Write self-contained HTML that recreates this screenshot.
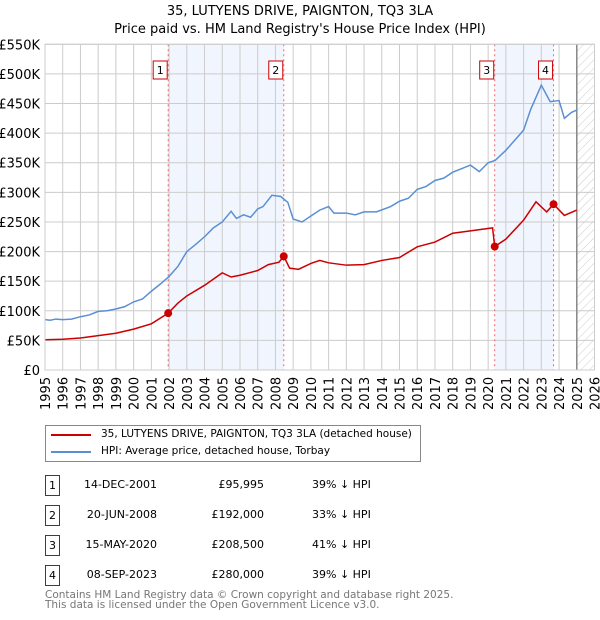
<!DOCTYPE html>
<html><head><meta charset="utf-8"><style>
body{margin:0;background:#fff;font-family:"DejaVu Sans","Liberation Sans",sans-serif;}
#wrap{position:relative;width:600px;height:620px;overflow:hidden;}
svg text{font-family:"DejaVu Sans","Liberation Sans",sans-serif;}
.row{position:absolute;left:0;width:600px;height:20px;font-size:11px;color:#000;}
.nb{position:absolute;left:45px;width:13px;height:19px;border:1px solid #c00;text-align:center;line-height:19px;font-size:11px;}
.dt{position:absolute;right:443px;top:3px;}
.pr{position:absolute;right:336px;top:3px;}
.pc{position:absolute;left:312px;top:3px;}
</style></head><body>
<div id="wrap">
<svg id="chart" width="600" height="420" style="position:absolute;left:0;top:0">
<defs><pattern id="hatch" width="6" height="6" patternUnits="userSpaceOnUse" patternTransform="rotate(45)"><line x1="0" y1="0" x2="0" y2="6" stroke="#ccc" stroke-width="1"/></pattern></defs>
<text x="300" y="15" text-anchor="middle" font-size="13">35, LUTYENS DRIVE, PAIGNTON, TQ3 3LA</text>
<text x="300" y="33" text-anchor="middle" font-size="13">Price paid vs. HM Land Registry's House Price Index (HPI)</text>
<g id="g"></g>
</svg>
<div style="position:absolute;left:45px;top:425px;width:374px;height:35px;border:1px solid #888;font-size:10.5px;">
<div style="position:absolute;left:5px;top:8px;width:40px;height:2px;background:#c00"></div>
<div style="position:absolute;left:55px;top:2px;white-space:nowrap">35, LUTYENS DRIVE, PAIGNTON, TQ3 3LA (detached house)</div>
<div style="position:absolute;left:5px;top:25px;width:40px;height:2px;background:#5b8fd4"></div>
<div style="position:absolute;left:55px;top:19px;white-space:nowrap">HPI: Average price, detached house, Torbay</div>
</div>
<div class="row" style="top:475px"><div class="nb">1</div><span class="dt">14-DEC-2001</span><span class="pr">£95,995</span><span class="pc">39% ↓ HPI</span></div>
<div class="row" style="top:505px"><div class="nb">2</div><span class="dt">20-JUN-2008</span><span class="pr">£192,000</span><span class="pc">33% ↓ HPI</span></div>
<div class="row" style="top:535px"><div class="nb">3</div><span class="dt">15-MAY-2020</span><span class="pr">£208,500</span><span class="pc">41% ↓ HPI</span></div>
<div class="row" style="top:565px"><div class="nb">4</div><span class="dt">08-SEP-2023</span><span class="pr">£280,000</span><span class="pc">39% ↓ HPI</span></div>
<div style="position:absolute;left:45px;top:590px;font-size:10.5px;color:#777;line-height:10px;white-space:nowrap">Contains HM Land Registry data © Crown copyright and database right 2025.<br>This data is licensed under the Open Government Licence v3.0.</div>
</div>
<script>
const hpiT=[1995,1995.3,1995.6,1996,1996.5,1997,1997.5,1998,1998.5,1999,1999.5,2000,2000.5,2001,2001.5,2002,2002.5,2003,2003.5,2004,2004.5,2005,2005.5,2005.8,2006.2,2006.6,2007,2007.3,2007.8,2008.3,2008.7,2009,2009.5,2010,2010.5,2011,2011.3,2012,2012.5,2013,2013.7,2014.5,2015,2015.5,2016,2016.5,2017,2017.5,2018,2018.5,2019,2019.5,2020,2020.4,2021,2021.5,2022,2022.4,2023,2023.5,2024,2024.3,2024.7,2025];
const hpiV=[85,84,86,85,86,90,93,99,100,103,107,115,120,133,145,158,175,200,212,225,240,250,268,256,262,258,272,276,295,293,283,255,250,260,270,276,265,265,262,267,267,276,285,290,305,310,320,324,334,340,346,335,350,354,371,388,405,440,481,453,455,425,435,439];
const redT=[1995,1996,1997,1998,1999,2000,2001,2001.95,2002.5,2003,2004,2005,2005.5,2006,2007,2007.6,2008.2,2008.47,2008.8,2009.3,2010,2010.5,2011,2012,2013,2014,2015,2016,2017,2018,2019,2020.25,2020.37,2021,2022,2022.7,2023.3,2023.69,2024.3,2025];
const redV=[51,52,54,58,62,69,78,96,113,125,143,164,157,160,168,178,182,192,172,170,180,185,181,177,178,185,190,208,216,231,235,240,208.5,221,253,284,267,280,261,270];
const saleT=[2001.95,2008.47,2020.37,2023.69];
const saleV=[95.995,192,208.5,280];
const saleLbl=["1","2","3","4"];
const yTicks=[0,50,100,150,200,250,300,350,400,450,500,550];
const xYears=[1995,1996,1997,1998,1999,2000,2001,2002,2003,2004,2005,2006,2007,2008,2009,2010,2011,2012,2013,2014,2015,2016,2017,2018,2019,2020,2021,2022,2023,2024,2025,2026];
const X0=45,X1=594.5,Y0=370,Y1=44.3;
const xs=t=>X0+(t-1995)*(X1-X0)/31;
const ys=v=>Y0-v*(Y0-Y1)/550;
const g=document.getElementById('g');const NS='http://www.w3.org/2000/svg';
function mk(tag,at){const e=document.createElementNS(NS,tag);for(const k in at)e.setAttribute(k,at[k]);g.appendChild(e);return e;}
let e;
e=mk('rect',{x:xs(saleT[0]),y:Y1,width:xs(saleT[1])-xs(saleT[0]),height:Y0-Y1,fill:'#eef3fc',opacity:0.8});

e=mk('rect',{x:xs(saleT[2]),y:Y1,width:xs(saleT[3])-xs(saleT[2]),height:Y0-Y1,fill:'#eef3fc',opacity:0.8});

e=mk('rect',{x:xs(2025),y:Y1,width:X1-xs(2025),height:Y0-Y1,fill:'url(#hatch)'});

yTicks.forEach(v=>{e=mk('line',{x1:X0,x2:X1,y1:ys(v),y2:ys(v),stroke:'#ccc'});

e=mk('text',{x:40,y:ys(v)+5,'text-anchor':'end','font-size':13});e.textContent=v?'£'+v+'K':'£0';
});
xYears.forEach(t=>{e=mk('line',{x1:xs(t),x2:xs(t),y1:Y1,y2:Y0,stroke:'#ccc'});

e=mk('text',{x:0,y:0,'font-size':13,transform:`translate(${xs(t)+5},${410}) rotate(-90)`});e.textContent=t;
});
e=mk('line',{x1:xs(2025),x2:xs(2025),y1:Y1,y2:Y0,stroke:'#888','stroke-width':1.5});

saleT.forEach((t,i)=>{e=mk('line',{x1:xs(t),x2:xs(t),y1:Y1,y2:Y0,stroke:'#e66','stroke-dasharray':'2,3'});
});
e=mk('polyline',{points:hpiT.map((t,i)=>xs(t)+','+ys(hpiV[i])).join(' '),fill:'none',stroke:'#5b8fd4','stroke-width':1.5});

e=mk('polyline',{points:redT.map((t,i)=>xs(t)+','+ys(redV[i])).join(' '),fill:'none',stroke:'#c00','stroke-width':1.5});

saleT.forEach((t,i)=>{e=mk('circle',{cx:xs(t),cy:ys(saleV[i]),r:4,fill:'#c00'});

const bx=xs(t)-15;
e=mk('rect',{x:bx,y:61,width:14,height:18,fill:'#fff',stroke:'#c00'});

e=mk('text',{x:bx+7,y:74,'text-anchor':'middle','font-size':11});e.textContent=saleLbl[i];
});
e=mk('rect',{x:X0,y:Y1,width:X1-X0,height:Y0-Y1,fill:'none',stroke:'#ccc'});

</script>
</body></html>
